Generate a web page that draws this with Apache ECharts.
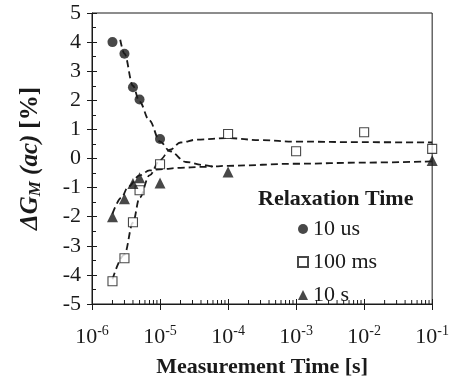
<!DOCTYPE html>
<html><head><meta charset="utf-8">
<script src="https://cdn.jsdelivr.net/npm/echarts@6/dist/echarts.min.js"></script>
<style>html,body{margin:0;padding:0;background:#fff}#c{width:452px;height:383px}</style>
</head><body><div id="c"></div>
<script>
// Measured data
const circleX = [2e-6, 3e-6, 4e-6, 5e-6, 1e-5];
const circleY = [4.0, 3.6, 2.45, 2.03, 0.67];
const squareX = [2e-6, 3e-6, 4e-6, 5e-6, 1e-5, 1e-4, 1e-3, 1e-2, 1e-1];
const squareY = [-4.22, -3.43, -2.19, -1.09, -0.2, 0.84, 0.25, 0.9, 0.33];
const triX = [2e-6, 3e-6, 4e-6, 5e-6, 1e-5, 1e-4, 1e-1];
const triY = [-2.0, -1.38, -0.86, -0.66, -0.84, -0.46, -0.07];
// Fit curves (dashed)
const circleFitX = [2.6e-6, 3e-6, 4e-6, 5e-6, 7e-6, 1e-5, 1.4e-5, 2.4e-5, 4.2e-5, 6e-5, 1e-4, 1e-3, 1e-2, 1e-1];
const circleFitY = [4.08, 3.6, 2.5, 1.95, 1.3, 0.58, 0.25, -0.12, -0.22, -0.27, -0.25, -0.18, -0.14, -0.1];
const squareFitX = [2e-6, 3e-6, 4e-6, 5e-6, 7e-6, 1e-5, 1.4e-5, 2e-5, 3.5e-5, 1e-4, 3e-4, 1e-3, 1e-2, 1e-1];
const squareFitY = [-4.15, -3.3, -2.2, -1.35, -0.58, -0.05, 0.3, 0.55, 0.65, 0.7, 0.63, 0.58, 0.56, 0.55];
const triFitX = [2e-6, 2.7e-6, 3.4e-6, 5e-6, 7e-6, 1e-5, 2e-5, 4e-5, 6e-5];
const triFitY = [-1.9, -1.35, -0.97, -0.58, -0.41, -0.37, -0.32, -0.29, -0.27];
const seriesNames = ['10 us', '100 ms', '10 s'];
const legendTitle = 'Relaxation Time';
const xTitle = 'Measurement Time [s]';
const yMin = -5, yMax = 5, yStep = 1;
const xMin = 1e-6, xMax = 1e-1;
// log minor tick positions (2..9 in each decade)
const minorTicks = [];
for (let d = -6; d <= -2; d++) for (let k = 2; k <= 9; k++) minorTicks.push(k * Math.pow(10, d));

const zip = (xs, ys) => xs.map((x, i) => [x, ys[i]]);
const F = 'Liberation Serif';
const ink = '#1a1a1a';
const dash = { color: ink, width: 1.8, type: [7, 4] };

const chart = echarts.init(document.getElementById('c'), null, { renderer: 'canvas' });
const yBase = { type: 'value', min: yMin, max: yMax, interval: yStep, position: 'left', offset: 0, splitLine: { show: false } };
const xBase = { type: 'log', logBase: 10, min: xMin, max: xMax, splitNumber: 5, position: 'bottom', offset: 0, splitLine: { show: false } };
chart.setOption({
  animation: false,
  backgroundColor: '#fff',
  grid: { left: 92, right: 18, top: 13, bottom: 76, show: true, borderColor: ink, borderWidth: 1, backgroundColor: 'transparent' },
  title: { text: legendTitle, left: 253, top: 183, textStyle: { fontFamily: F, fontWeight: 'bold', fontSize: 22, color: ink } },
  legend: {
    data: seriesNames, orient: 'vertical', left: 292, top: 213, itemGap: 11, itemWidth: 10, itemHeight: 10,
    textStyle: { fontFamily: F, fontSize: 22, color: ink }
  },
  xAxis: [
    Object.assign({}, xBase, {
      name: xTitle, nameLocation: 'middle', nameGap: 52,
      nameTextStyle: { fontFamily: F, fontWeight: 'bold', fontSize: 22, color: ink },
      axisLine: { onZero: false, lineStyle: { color: ink, width: 1 } },
      axisTick: { inside: false, length: 6, lineStyle: { color: ink } },
      axisLabel: {
        margin: 20, color: ink,
        formatter: v => '{b|10}{s|' + Math.round(Math.log10(v)) + '}',
        rich: { b: { fontFamily: F, fontSize: 22, color: ink }, s: { fontFamily: F, fontSize: 14, color: ink, padding: [0, 0, 12, 0] } }
      }
    }),
    Object.assign({}, xBase, {
      axisLine: { show: false, onZero: false }, axisLabel: { show: false },
      axisTick: { inside: true, length: 5, lineStyle: { color: ink } }
    })
  ],
  yAxis: [
    Object.assign({}, yBase, {
      name: '{i|ΔG}{sub|M}{i| (ac)}  {r|[%]}', nameLocation: 'middle', nameGap: 48, nameRotate: 90,
      nameTextStyle: {
        fontFamily: F, color: ink,
        rich: {
          i: { fontFamily: F, fontSize: 25, fontWeight: 'bold', fontStyle: 'italic', color: ink },
          sub: { fontFamily: F, fontSize: 17, fontWeight: 'bold', fontStyle: 'italic', color: ink, padding: [9, 0, 0, 0] },
          r: { fontFamily: F, fontSize: 25, fontWeight: 'bold', color: ink }
        }
      },
      axisLine: { onZero: false, lineStyle: { color: ink, width: 1 } },
      axisTick: { inside: false, length: 5, lineStyle: { color: ink } },
      axisLabel: { margin: 11, fontFamily: F, fontSize: 22, color: ink }
    }),
    Object.assign({}, yBase, {
      axisLine: { show: false, onZero: false }, axisLabel: { show: false },
      axisTick: { inside: true, length: 5, lineStyle: { color: ink } },
      minorTick: { show: true, splitNumber: 2, length: 4, lineStyle: { color: ink } }
    })
  ],
  series: [
    { type: 'line', data: zip(circleFitX, circleFitY), smooth: 0.35, smoothMonotone: 'x', showSymbol: false, symbol: 'none', lineStyle: dash, silent: true, z: 2 },
    { type: 'line', data: zip(squareFitX, squareFitY), smooth: 0.35, smoothMonotone: 'x', showSymbol: false, symbol: 'none', lineStyle: dash, silent: true, z: 2 },
    { type: 'line', data: zip(triFitX, triFitY), smooth: 0.35, smoothMonotone: 'x', showSymbol: false, symbol: 'none', lineStyle: dash, silent: true, z: 2 },
    { name: seriesNames[0], type: 'scatter', data: zip(circleX, circleY), symbol: 'circle', symbolSize: 10, itemStyle: { color: ink }, z: 5 },
    { name: seriesNames[1], type: 'scatter', data: zip(squareX, squareY), symbol: 'rect', symbolSize: 9, itemStyle: { color: '#fff', borderColor: ink, borderWidth: 1.1 }, z: 5 },
    { name: seriesNames[2], type: 'scatter', data: zip(triX, triY), symbol: 'triangle', symbolSize: 11, itemStyle: { color: ink }, z: 5 },
    {
      type: 'custom', silent: true, data: minorTicks.map(v => [v, yMin]), z: 3,
      renderItem: (params, api) => {
        const p = api.coord([api.value(0), api.value(1)]);
        return { type: 'line', shape: { x1: p[0], y1: p[1], x2: p[0], y2: p[1] - 4 }, style: { stroke: ink, lineWidth: 1 } };
      }
    }
  ]
});
</script></body></html>
